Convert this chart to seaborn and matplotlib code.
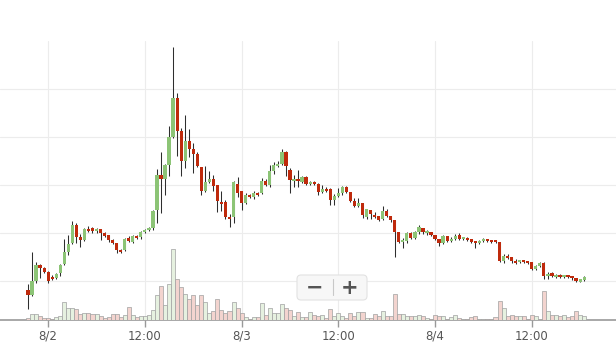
import pandas as pd
import matplotlib
matplotlib.use("Agg")
import matplotlib.pyplot as plt
import matplotlib.dates as mdates
from matplotlib.ticker import MultipleLocator, FuncFormatter
from matplotlib.patches import FancyBboxPatch
from matplotlib.lines import Line2D
import seaborn as sns

# bougies de 30 minutes
start = "2019-08-01 21:30"

opens = [39, 34, 48, 64, 61, 57, 52, 51, 56, 65,
         77, 86, 104, 92, 89, 100, 101, 98, 100, 96,
         94, 89, 86, 79, 79, 91, 87, 93, 92, 97,
         99, 101, 119, 154, 150, 164, 192, 231, 198, 168,
         188, 180, 175, 162, 138, 147, 150, 144, 126, 127,
         112, 112, 145, 138, 126, 134, 132, 136, 136, 148,
         144, 158, 163, 165, 177, 159, 148, 150, 147, 152,
         145, 147, 145, 137, 140, 140, 129, 133, 136, 142,
         137, 128, 123, 126, 112, 119, 114, 113, 110, 118,
         113, 109, 97, 87, 88, 96, 91, 97, 101, 96,
         97, 94, 90, 86, 93, 88, 90, 94, 90, 91,
         90, 88, 86, 88, 90, 89, 89, 87, 68, 73,
         72, 68, 67, 69, 68, 67, 60, 63, 66, 53,
         56, 52, 54, 52, 53, 53, 51, 47, 49]

closes = [34, 48, 64, 61, 57, 48, 50, 55, 64, 77,
          85, 104, 92, 89, 100, 98, 98, 100, 96, 93,
          89, 86, 79, 77, 90, 88, 93, 91, 97, 99,
          101, 118, 154, 150, 164, 192, 231, 198, 168, 188,
          180, 175, 163, 138, 147, 150, 143, 128, 125, 112,
          110, 147, 136, 126, 134, 132, 136, 134, 148, 144,
          158, 164, 165, 177, 163, 149, 150, 148, 152, 145,
          147, 145, 137, 140, 138, 129, 133, 136, 142, 137,
          128, 123, 126, 114, 120, 115, 112, 109, 118, 113,
          109, 97, 87, 89, 96, 91, 97, 102, 97, 98,
          94, 90, 86, 93, 88, 90, 93, 90, 91, 89,
          87, 86, 88, 90, 88, 87, 87, 68, 73, 71,
          68, 66, 69, 67, 66, 60, 63, 66, 53, 55,
          53, 54, 52, 53, 52, 51, 48, 50, 52]

highs = [45, 77, 67, 65, 62, 58, 54, 56, 65, 90,
         94, 108, 106, 95, 101, 103, 102, 101, 100, 97,
         94, 90, 86, 80, 91, 93, 94, 94, 98, 100,
         102, 119, 160, 177, 165, 203, 282, 236, 201, 214,
         200, 186, 177, 162, 163, 158, 154, 144, 138, 129,
         115, 148, 152, 138, 136, 135, 138, 137, 151, 150,
         164, 167, 168, 180, 178, 161, 154, 159, 153, 153,
         148, 148, 146, 144, 142, 141, 135, 141, 143, 143,
         137, 131, 131, 126, 120, 119, 117, 113, 123, 120,
         113, 109, 97, 91, 97, 97, 98, 104, 101, 99,
         97, 94, 90, 94, 93, 92, 95, 96, 92, 92,
         90, 88, 89, 91, 90, 89, 89, 87, 75, 75,
         72, 70, 69, 69, 68, 67, 64, 67, 67, 57,
         57, 55, 55, 54, 54, 53, 51, 50, 53]

lows = [20, 33, 46, 51, 56, 46, 49, 50, 53, 64,
        74, 85, 86, 82, 88, 97, 96, 96, 89, 92,
        87, 85, 76, 76, 78, 87, 86, 90, 90, 96,
        98, 99, 106, 116, 134, 153, 191, 173, 153, 161,
        172, 156, 162, 134, 137, 146, 138, 117, 118, 110,
        102, 106, 132, 119, 125, 131, 130, 133, 135, 143,
        142, 155, 162, 164, 153, 136, 142, 142, 146, 144,
        144, 144, 134, 136, 137, 124, 124, 132, 134, 136,
        127, 122, 122, 111, 110, 110, 111, 108, 109, 112,
        107, 72, 86, 81, 86, 90, 90, 95, 95, 94,
        93, 89, 83, 85, 87, 87, 89, 89, 89, 88,
        86, 81, 85, 87, 87, 86, 86, 67, 66, 70,
        66, 65, 66, 66, 65, 59, 59, 62, 50, 50,
        52, 51, 51, 51, 51, 49, 47, 47, 48]

volumes = [2, 6, 6, 4, 2, 2, 1, 3, 4, 18,
           12, 12, 11, 6, 7, 7, 6, 6, 4, 2,
           3, 6, 6, 3, 5, 13, 5, 3, 4, 4,
           5, 10, 25, 34, 15, 36, 71, 41, 33, 26,
           21, 25, 15, 25, 18, 7, 9, 21, 10, 7,
           9, 18, 12, 7, 3, 1, 3, 3, 17, 5,
           12, 7, 7, 16, 12, 10, 4, 8, 3, 3,
           8, 5, 4, 5, 2, 11, 4, 7, 4, 2,
           7, 4, 8, 8, 2, 2, 6, 4, 9, 4,
           4, 26, 6, 6, 4, 4, 4, 5, 4, 2,
           1, 5, 4, 4, 1, 3, 5, 2, 1, 1,
           3, 4, 1, 1, 1, 1, 3, 19, 12, 4,
           5, 4, 4, 4, 1, 5, 4, 1, 29, 9,
           5, 5, 4, 5, 3, 4, 9, 5, 4]

UP = "#8cc476"
DOWN = "#bf2a0c"
VOL_UP = "#e6f1e0"
VOL_DOWN = "#f3d4cf"

df = pd.DataFrame({"open": opens, "high": highs, "low": lows,
                   "close": closes, "volume": volumes})
df["time"] = pd.date_range(start, periods=len(df), freq="30min")
df["up"] = df["close"] >= df["open"]

sns.set_theme(style="whitegrid", rc={"grid.color": "#ececec",
                                     "grid.linewidth": 0.8})
plt.rcParams["font.family"] = ["DejaVu Sans"]

fig = plt.figure(figsize=(6.16, 3.64), dpi=100)
rect = [0, 44 / 364, 1, 279 / 364]
ax = fig.add_axes(rect)
ax_vol = fig.add_axes(rect, sharex=ax)
ax_vol.patch.set_alpha(0)

x = mdates.date2num(df["time"])
step = 1 / 48

# mèches + corps
ax.vlines(x, df["low"], df["high"], color="#2e2e2e", linewidth=0.75, zorder=2)
body_low = df[["open", "close"]].min(axis=1)
body_h = (df["close"] - df["open"]).abs().clip(lower=1.5)
ax.bar(x, body_h, bottom=body_low, width=step * 0.8,
       color=[UP if u else DOWN for u in df["up"]], linewidth=0, zorder=3)

# volume
ax_vol.bar(x, df["volume"], width=step,
           color=[VOL_UP if u else VOL_DOWN for u in df["up"]],
           edgecolor="#a0a0a0", linewidth=0.5)
ax_vol.set_ylim(0, 279)
ax_vol.axis("off")

ax.set_xlim(x[0] - 6.95 * step, x[-1] + 7.9 * step)
ax.set_ylim(9, 287.5)
ax.yaxis.set_major_locator(MultipleLocator(48))
ax.tick_params(axis="y", left=False, labelleft=False)


def fmt(v, pos):
    d = mdates.num2date(v)
    if d.hour == 0:
        return f"{d.month}/{d.day}"
    return d.strftime("%H:%M")


ax.xaxis.set_major_locator(mdates.HourLocator(byhour=[0, 12]))
ax.xaxis.set_major_formatter(FuncFormatter(fmt))
ax.tick_params(axis="x", bottom=True, length=5, width=1, color="#999999",
               labelcolor="#555555", labelsize=8.5, pad=2)
for side in ["top", "left", "right"]:
    ax.spines[side].set_visible(False)
ax.spines["bottom"].set_color("#999999")
ax.spines["bottom"].set_linewidth(1.2)

# bouton de zoom
btn = FancyBboxPatch((2.97, 0.64), 0.70, 0.25,
                     boxstyle="round,pad=0,rounding_size=0.04",
                     transform=fig.dpi_scale_trans, facecolor="#f7f7f7",
                     edgecolor="#e2e2e2", linewidth=0.8, zorder=10)
fig.add_artist(btn)
fig.add_artist(Line2D([3.33, 3.33], [0.69, 0.85], transform=fig.dpi_scale_trans,
                      color="#c8c8c8", linewidth=0.8, zorder=11))
fig.text(3.145, 0.765, "−", transform=fig.dpi_scale_trans, fontsize=15,
         fontweight="bold", color="#555555", ha="center", va="center", zorder=12)
fig.text(3.495, 0.765, "+", transform=fig.dpi_scale_trans, fontsize=15,
         fontweight="bold", color="#555555", ha="center", va="center", zorder=12)

fig.savefig("out.png", dpi=100)
